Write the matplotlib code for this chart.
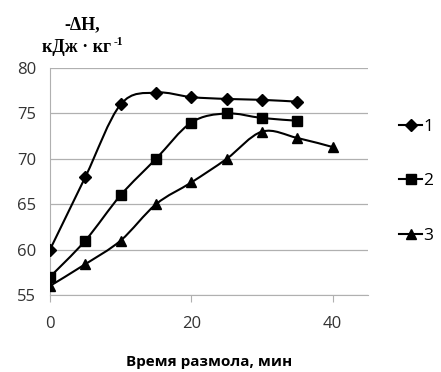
import numpy as np
import matplotlib
matplotlib.use("Agg")
import matplotlib.pyplot as plt
from matplotlib.path import Path
from matplotlib.patches import PathPatch
from matplotlib.lines import Line2D

x1 = [0, 5, 10, 15, 20, 25, 30, 35]
y1 = [60, 68, 76, 77.3, 76.8, 76.6, 76.5, 76.3]
x2 = [0, 5, 10, 15, 20, 25, 30, 35]
y2 = [57, 61, 66, 70, 74, 75, 74.5, 74.2]
x3 = [0, 5, 10, 15, 20, 25, 30, 35, 40]
y3 = [56, 58.4, 61, 65, 67.4, 70, 73, 72.3, 71.3]
labels = ["1", "2", "3"]
markers = ["D", "s", "^"]
msizes = [6, 6.5, 7.5]


def smooth_path(xs, ys, t=1/6):
    # excel-like smoothed line: cubic bezier through every point
    pts = np.column_stack([xs, ys]).astype(float)
    verts = [pts[0]]
    codes = [Path.MOVETO]
    n = len(pts)
    for i in range(n - 1):
        p0 = pts[i - 1] if i > 0 else pts[i]
        p1, p2 = pts[i], pts[i + 1]
        p3 = pts[i + 2] if i + 2 < n else pts[i + 1]
        verts += [p1 + (p2 - p0) * t, p2 - (p3 - p1) * t, p2]
        codes += [Path.CURVE4] * 3
    return Path(verts, codes)


fig = plt.figure(figsize=(4.41, 3.72), dpi=100)
ax = fig.add_axes([0.1134, 0.207, 0.721, 0.61])

for xs, ys, m, ms in zip([x1, x2, x3], [y1, y2, y3], markers, msizes):
    ax.add_patch(PathPatch(smooth_path(xs, ys), fill=False, lw=1.5,
                           ec="black", transform=ax.transData, zorder=3))
    ax.plot(xs, ys, ls="none", marker=m, ms=ms, color="black", zorder=4)

ax.set_xlim(0, 45)
ax.set_ylim(55, 80)
ax.set_xticks([0, 20, 40])
ax.set_yticks([55, 60, 65, 70, 75, 80])
ax.grid(axis="y", color="#b0b0b0", lw=0.9)
ax.set_axisbelow(True)
for s in ["top", "right"]:
    ax.spines[s].set_visible(False)
ax.spines["left"].set_color("#b0b0b0")
ax.spines["bottom"].set_color("#b0b0b0")
ax.tick_params(axis="y", length=0, pad=10, labelsize=12, labelcolor="#333333")
ax.tick_params(axis="x", length=5, color="#b0b0b0", pad=10,
               labelsize=12, labelcolor="#333333")
for lb in ax.get_xticklabels() + ax.get_yticklabels():
    lb.set_fontfamily("Open Sans")

ax.set_xlabel("Время размола, мин", fontsize=11, fontweight="bold",
              fontfamily="Open Sans", labelpad=17)

fig.text(0.186, 0.933, "-ΔH,", fontsize=13, fontweight="bold",
         fontfamily="Liberation Serif", ha="center", va="center")
fig.text(0.095, 0.872, "кДж · кг", fontsize=13, fontweight="bold",
         fontfamily="Liberation Serif", ha="left", va="center")
fig.text(0.258, 0.886, "-1", fontsize=8.5, fontweight="bold",
         fontfamily="Liberation Serif", ha="left", va="center")

handles = [Line2D([], [], color="black", lw=1.5, marker=m, ms=ms)
           for m, ms in zip(markers, msizes)]
fig.legend(handles, labels, loc="center left", bbox_to_anchor=(0.87, 0.513),
           frameon=False, handlelength=1.3, handletextpad=0.1,
           labelspacing=2.2, prop={"family": "Open Sans", "size": 12.5})

fig.savefig("out.png", dpi=100)
